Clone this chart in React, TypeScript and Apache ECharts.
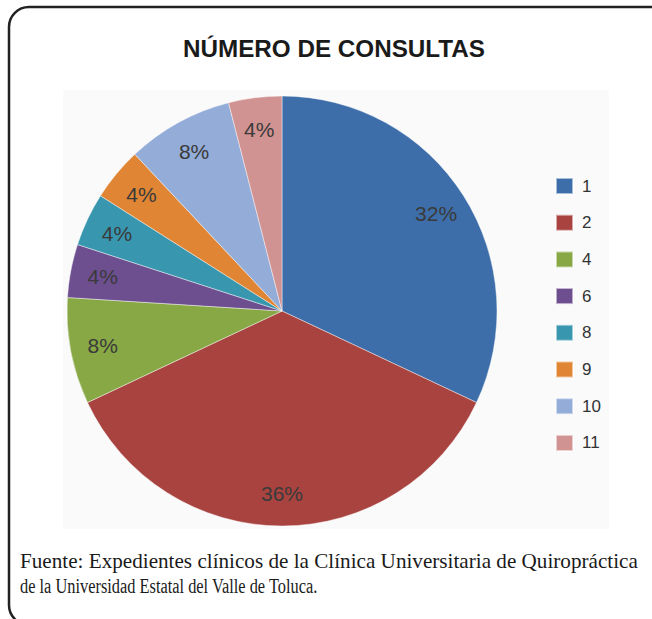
import React, { useEffect, useRef } from "react";
import * as echarts from "echarts";

const title = "NÚMERO DE CONSULTAS";
const categories = ["1", "2", "4", "6", "8", "9", "10", "11"];
const values = [8, 9, 2, 1, 1, 1, 2, 1];
const colors = ["#3D6EA9", "#A8433F", "#87A845", "#6D4E8F", "#3896AF", "#DF8534", "#94ACD8", "#D19391"];
const footerLines = [
  "Fuente: Expedientes clínicos de la Clínica Universitaria de Quiropráctica",
  "de la Universidad Estatal del Valle de Toluca.",
];

function measure(text: string, font: string): number {
  const c = document.createElement("canvas").getContext("2d");
  if (!c) return 1;
  c.font = font;
  return c.measureText(text).width;
}

export default function App() {
  const ref = useRef<HTMLDivElement>(null);
  useEffect(() => {
    document.body.style.margin = "0";
    const chart = echarts.init(ref.current!, null, { renderer: "svg" });
    const data = categories.map((c, i) => ({ name: c, value: values[i], itemStyle: { color: colors[i] } }));
    const footFont = "20px 'Liberation Serif'";
    const w1 = measure(footerLines[0], footFont);
    const w2 = measure(footerLines[1], footFont);
    const titleFont = "bold 24px 'Liberation Sans'";
    const tw = measure(title, titleFont);
    const cx = 282;
    const cy = 311;
    const r = 215;
    chart.setOption({
      animation: false,
      backgroundColor: "#ffffff",
      graphic: [
        {
          type: "rect",
          shape: { x: 63, y: 90, width: 546, height: 439 },
          style: { fill: "#fafafa" },
          z: -10,
          silent: true,
        },
        {
          type: "rect",
          shape: { x: 9, y: 7, width: 700, height: 618, r: 20 },
          style: { fill: "none", stroke: "#222222", lineWidth: 2.5 },
          silent: true,
        },
        {
          type: "text",
          x: 334,
          y: 49,
          scaleX: 302 / tw,
          style: {
            text: title,
            font: titleFont,
            fill: "#1a1a1a",
            align: "center",
            verticalAlign: "middle",
          },
        },
        {
          type: "text",
          x: 20,
          y: 561,
          scaleX: 618 / w1,
          style: { text: footerLines[0], font: footFont, fill: "#1a1a1a", align: "left", verticalAlign: "middle" },
        },
        {
          type: "text",
          x: 20,
          y: 586,
          scaleX: 298 / w2,
          style: { text: footerLines[1], font: footFont, fill: "#1a1a1a", align: "left", verticalAlign: "middle" },
        },
      ],
      legend: {
        orient: "vertical",
        left: 555,
        top: 177,
        padding: 0,
        itemWidth: 17,
        itemHeight: 16,
        itemGap: 18.7,
        icon: "rect",
        data: categories,
        textStyle: { fontFamily: "Liberation Sans", fontSize: 17, color: "#333333", lineHeight: 18, padding: [0, 0, 0, 4] },
      },
      series: [
        {
          type: "pie",
          center: [cx, cy],
          radius: [0, r],
          startAngle: 90,
          clockwise: true,
          data,
          label: { show: false },
          labelLine: { show: false },
          itemStyle: { borderColor: "rgba(255,255,255,0.55)", borderWidth: 0.8 },
          emphasis: { disabled: true },
          silent: true,
        },
        {
          type: "pie",
          center: [cx, cy],
          radius: [144, r],
          startAngle: 90,
          clockwise: true,
          data: categories.map((c, i) => ({ name: c, value: values[i] })),
          itemStyle: { color: "rgba(0,0,0,0)" },
          label: {
            show: true,
            position: "inside",
            formatter: (p: any) => Math.round(p.percent) + "%",
            fontFamily: "Liberation Sans",
            fontSize: 21,
            color: "#3a3a3a",
          },
          labelLine: { show: false },
          emphasis: { disabled: true },
          silent: true,
        },
      ],
    });
    return () => chart.dispose();
  }, []);
  return <div ref={ref} style={{ width: 652, height: 619 }} />;
}
